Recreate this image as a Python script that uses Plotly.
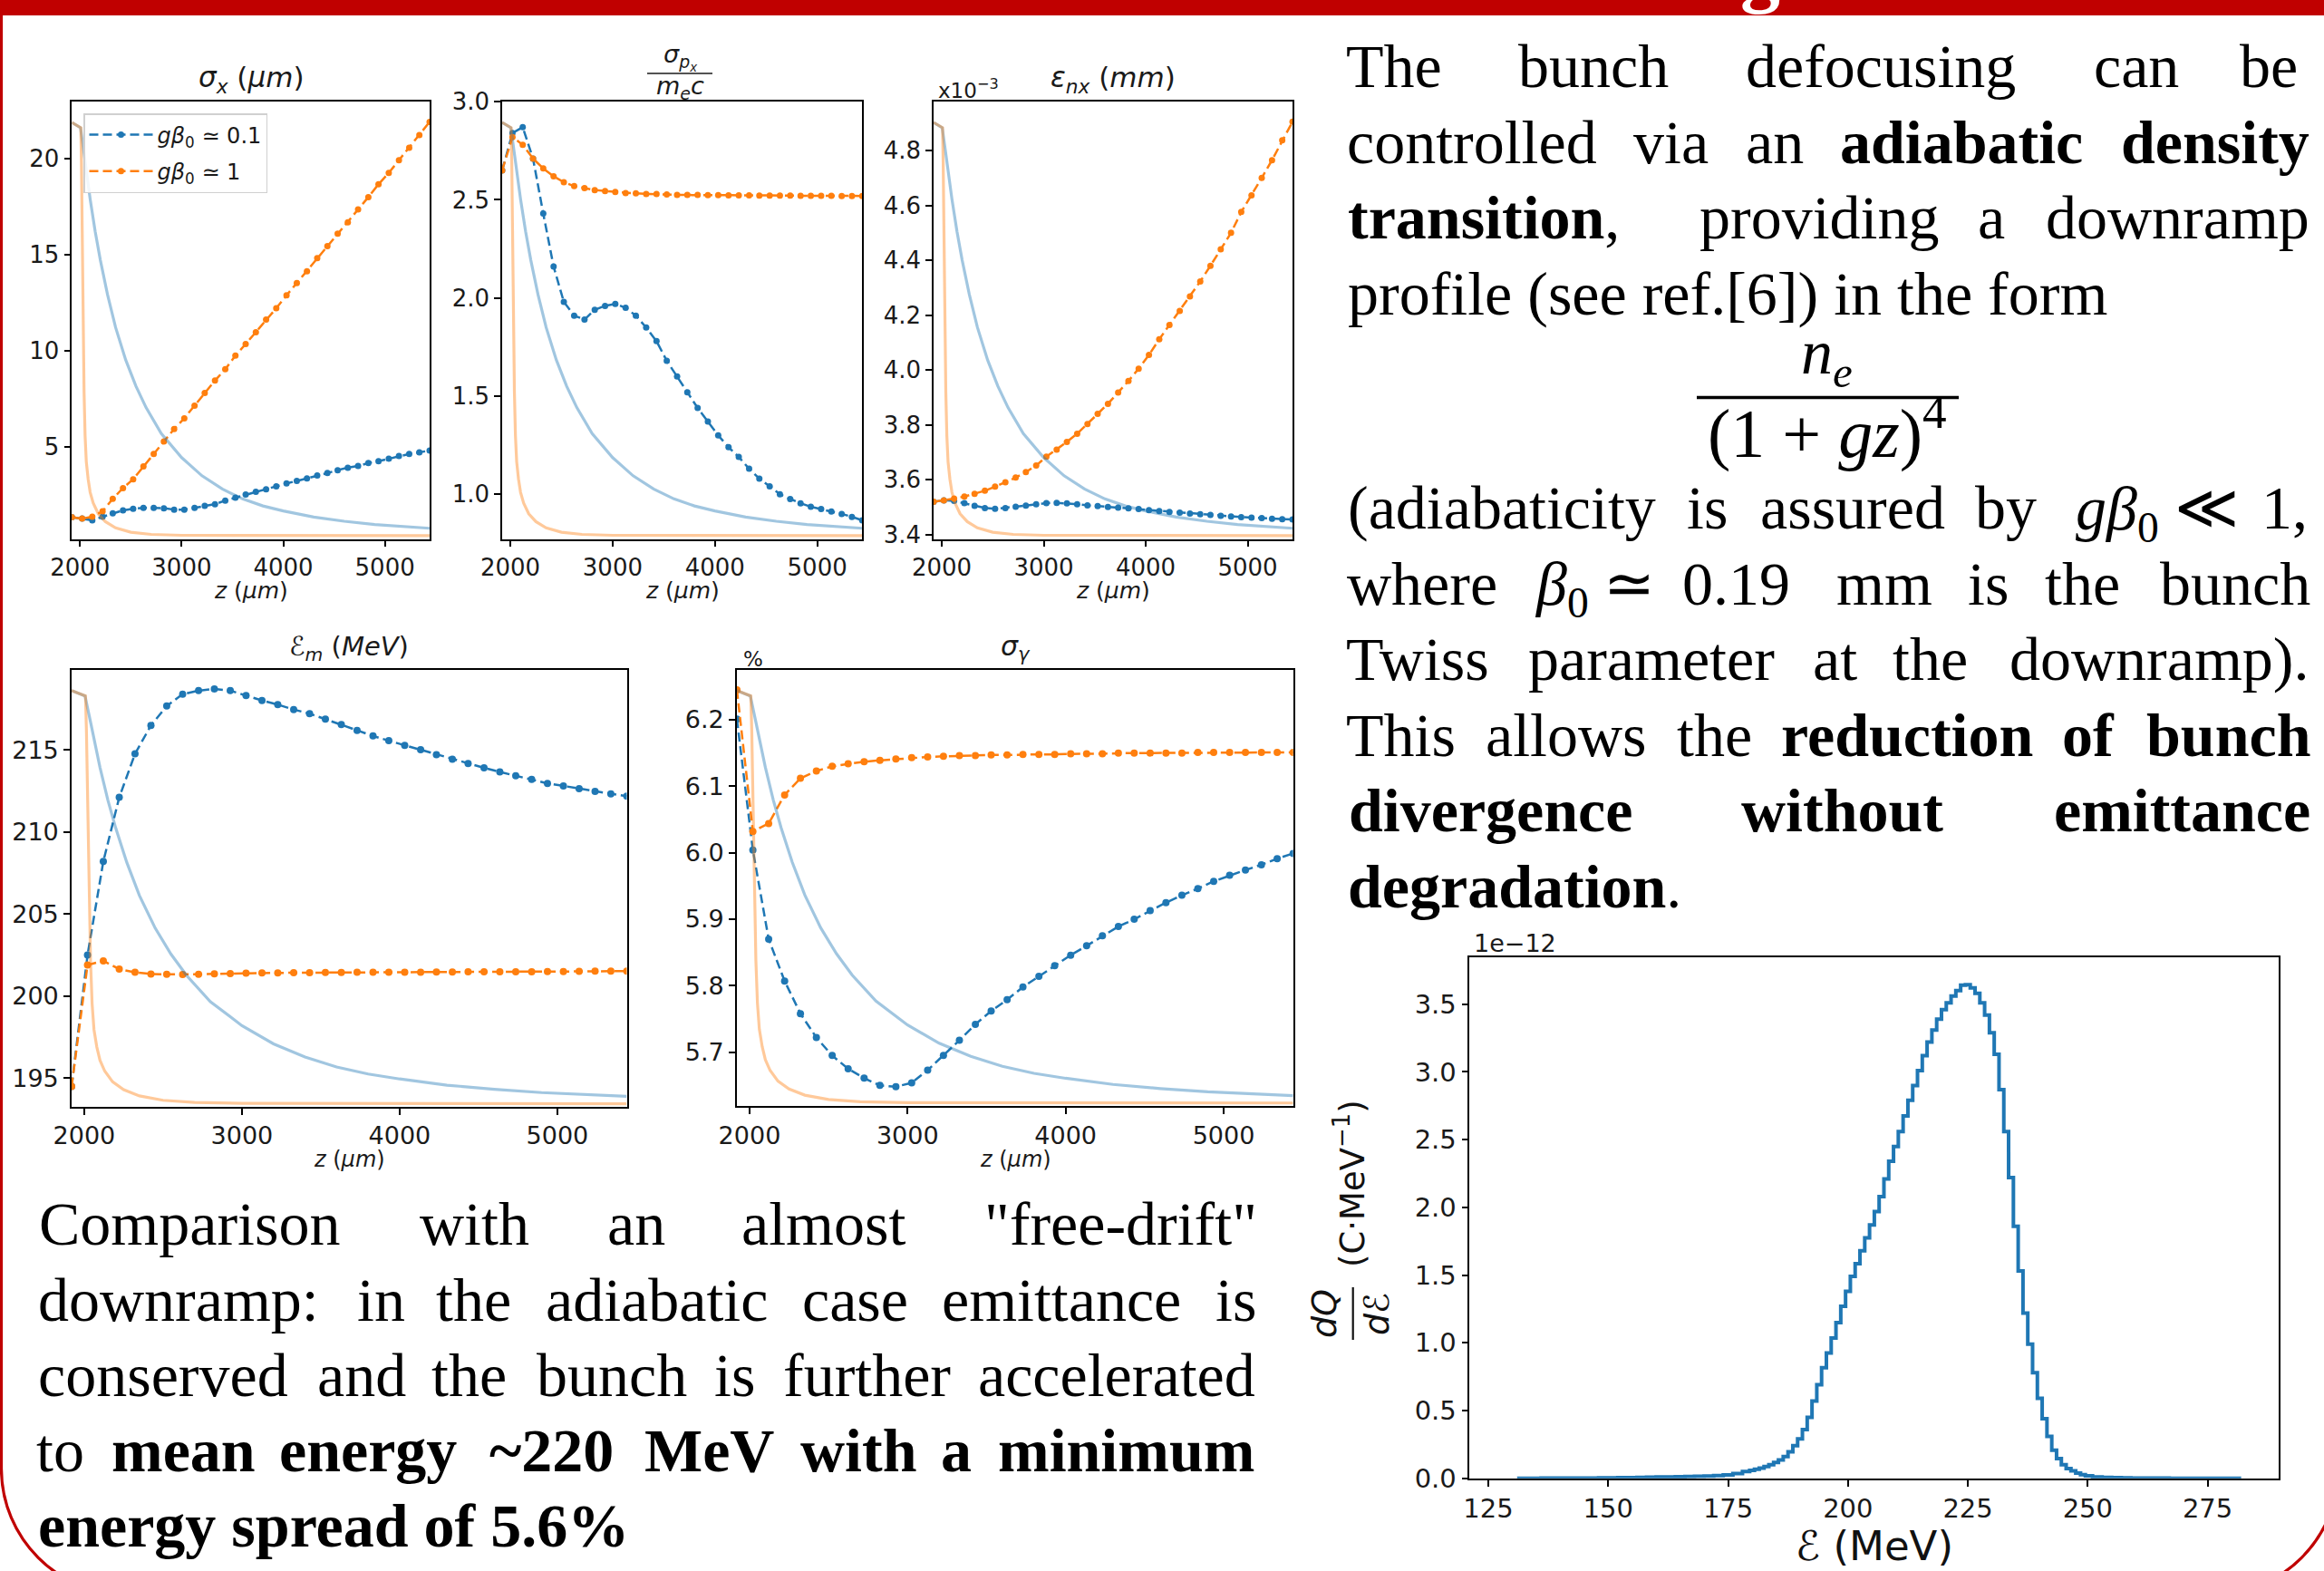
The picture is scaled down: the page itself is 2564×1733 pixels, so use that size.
import plotly.graph_objects as go

W, H = 2564, 1733
BLUE = "#1f77b4"
ORANGE = "#ff7f0e"
RED = "#c00000"

# ---------------- data ----------------
Z = [1920, 2021, 2121, 2222, 2322, 2423, 2523, 2624, 2725, 2825, 2926, 3026,
     3127, 3227, 3328, 3429, 3529, 3630, 3730, 3831, 3931, 4032, 4133, 4233,
     4334, 4434, 4535, 4635, 4736, 4837, 4937, 5038, 5138, 5239, 5339, 5440]

SIGX_A = [1.35, 1.27, 1.18, 1.37, 1.55, 1.70, 1.78, 1.83, 1.83, 1.81, 1.74, 1.74,
          1.83, 1.93, 2.02, 2.21, 2.36, 2.52, 2.67, 2.80, 2.95, 3.10, 3.23, 3.36,
          3.51, 3.64, 3.79, 3.92, 4.01, 4.16, 4.26, 4.39, 4.53, 4.63, 4.72, 4.81]
SIGX_B = [1.35, 1.27, 1.37, 1.65, 2.30, 2.86, 3.32, 3.98, 4.63, 5.28, 5.93, 6.49,
          7.14, 7.80, 8.45, 9.04, 9.75, 10.35, 10.96, 11.62, 12.21, 12.88, 13.52, 14.13,
          14.82, 15.44, 16.09, 16.68, 17.35, 17.99, 18.66, 19.25, 19.91, 20.56, 21.21, 21.90]

SIGP_A = [2.65, 2.84, 2.87, 2.71, 2.43, 2.16, 1.98, 1.91, 1.89, 1.94, 1.96, 1.97,
          1.95, 1.91, 1.85, 1.78, 1.68, 1.60, 1.52, 1.44, 1.37, 1.30, 1.24, 1.19,
          1.13, 1.08, 1.04, 1.00, 0.976, 0.954, 0.936, 0.925, 0.912, 0.900, 0.885, 0.867]
SIGP_B = [2.65, 2.82, 2.78, 2.71, 2.66, 2.62, 2.59, 2.57, 2.56, 2.55, 2.545, 2.54,
          2.535, 2.533, 2.53, 2.53, 2.527, 2.525, 2.525, 2.525, 2.524, 2.524, 2.523, 2.523,
          2.523, 2.522, 2.522, 2.522, 2.522, 2.521, 2.521, 2.521, 2.521, 2.520, 2.520, 2.520]

EMIT_A = [3.520, 3.525, 3.523, 3.515, 3.505, 3.497, 3.494, 3.497, 3.502, 3.506, 3.511, 3.515,
          3.516, 3.514, 3.511, 3.507, 3.504, 3.501, 3.498, 3.496, 3.493, 3.489, 3.486, 3.483,
          3.480, 3.477, 3.474, 3.472, 3.469, 3.466, 3.464, 3.462, 3.460, 3.458, 3.456, 3.455]
EMIT_B = [3.520, 3.525, 3.531, 3.539, 3.549, 3.560, 3.575, 3.591, 3.608, 3.628, 3.652, 3.684,
          3.710, 3.738, 3.768, 3.803, 3.840, 3.877, 3.918, 3.960, 4.005, 4.055, 4.112, 4.164,
          4.215, 4.268, 4.323, 4.380, 4.440, 4.500, 4.576, 4.637, 4.700, 4.765, 4.837, 4.905]

EN_A = [194.5, 202.5, 208.2, 212.1, 214.75, 216.48, 217.66, 218.38, 218.6, 218.7, 218.6, 218.3,
        218.0, 217.75, 217.45, 217.2, 216.86, 216.54, 216.18, 215.84, 215.55, 215.27, 215.0, 214.7,
        214.43, 214.16, 213.9, 213.65, 213.42, 213.2, 212.95, 212.8, 212.63, 212.47, 212.32, 212.17]
EN_B = [194.5, 201.9, 202.15, 201.65, 201.45, 201.35, 201.33, 201.32, 201.33, 201.36, 201.38, 201.40,
        201.41, 201.42, 201.43, 201.43, 201.44, 201.44, 201.45, 201.45, 201.45, 201.46, 201.46, 201.47,
        201.47, 201.48, 201.48, 201.48, 201.49, 201.49, 201.50, 201.50, 201.51, 201.52, 201.52, 201.53]

SPR_A = [6.201, 6.004, 5.870, 5.807, 5.758, 5.722, 5.695, 5.675, 5.661, 5.650, 5.648, 5.654,
         5.673, 5.695, 5.718, 5.742, 5.762, 5.779, 5.798, 5.814, 5.830, 5.846, 5.860, 5.875,
         5.889, 5.900, 5.913, 5.925, 5.936, 5.946, 5.957, 5.966, 5.974, 5.982, 5.991, 5.999]
SPR_B = [6.245, 6.032, 6.044, 6.087, 6.112, 6.123, 6.130, 6.134, 6.137, 6.139, 6.141, 6.143,
         6.144, 6.145, 6.146, 6.146, 6.147, 6.147, 6.148, 6.148, 6.148, 6.149, 6.149, 6.149,
         6.150, 6.150, 6.150, 6.150, 6.150, 6.151, 6.151, 6.151, 6.151, 6.151, 6.151, 6.151]

# normalised density profiles (n/n0) of the two downramps
PROF_Z_A = [1920, 2005, 2040, 2070, 2100, 2150, 2200, 2270, 2350, 2450, 2550, 2650,
            2800, 3000, 3200, 3400, 3600, 3800, 4000, 4300, 4600, 4900, 5200, 5440]
PROF_A = [1.0, 0.987, 0.924, 0.867, 0.814, 0.735, 0.667, 0.584, 0.504, 0.425, 0.362, 0.310,
          0.247, 0.189, 0.145, 0.113, 0.089, 0.072, 0.060, 0.045, 0.035, 0.027, 0.022, 0.018]
PROF_Z_B = [1920, 2008, 2014, 2020, 2026, 2032, 2040, 2050, 2062, 2080, 2100, 2130,
            2180, 2250, 2350, 2500, 2700, 3000, 5440]
PROF_B = [1.0, 0.987, 0.903, 0.756, 0.599, 0.462, 0.347, 0.242, 0.179, 0.137, 0.105, 0.079,
          0.053, 0.034, 0.019, 0.0084, 0.0032, 0.001, 0.0]

# energy spectrum dQ/dE (units of 1e-12 C/MeV), bin centres in MeV
HIST_E = [131, 133, 135, 137, 139, 141, 143, 145, 147, 149, 151, 153, 155, 157, 159, 161,
          163, 165, 167, 169, 171, 173, 175, 177, 179,
          180, 181, 182, 183, 184, 185, 186, 187, 188, 189, 190, 191, 192, 193, 194, 195,
          196, 197, 198, 199, 200, 201, 202, 203, 204, 205, 206, 207, 208, 209, 210, 211,
          212, 213, 214, 215, 216, 217, 218, 219, 220, 221, 222, 223, 224, 225, 226, 227,
          228, 229, 230, 231, 232, 233, 234, 235, 236, 237, 238, 239, 240, 241, 242, 243,
          244, 245, 246, 247, 248, 249, 250,
          252, 254, 256, 258, 260, 262, 264, 266, 268, 270, 272, 274, 276, 278, 280, 282]
HIST_Q = [0.000, 0.000, 0.000, 0.001, 0.001, 0.001, 0.001, 0.002, 0.002, 0.003, 0.003, 0.004,
          0.005, 0.006, 0.008, 0.009, 0.010, 0.012, 0.013, 0.015, 0.017, 0.020, 0.025, 0.034,
          0.050,
          0.058, 0.066, 0.075, 0.086, 0.100, 0.116, 0.136, 0.160, 0.195, 0.240, 0.290, 0.360,
          0.450, 0.570, 0.690, 0.816, 0.925, 1.035, 1.150, 1.270, 1.380, 1.490, 1.585, 1.680,
          1.775, 1.870, 1.970, 2.080, 2.210, 2.340, 2.450, 2.560, 2.675, 2.790, 2.900, 3.010,
          3.120, 3.220, 3.310, 3.390, 3.460, 3.510, 3.560, 3.600, 3.640, 3.645, 3.620, 3.580,
          3.510, 3.420, 3.290, 3.130, 2.870, 2.560, 2.220, 1.860, 1.530, 1.220, 0.990, 0.780,
          0.590, 0.440, 0.310, 0.207, 0.145, 0.100, 0.072, 0.055, 0.038, 0.026, 0.018,
          0.010, 0.006, 0.004, 0.003, 0.002, 0.001, 0.001, 0.001, 0.000, 0.000, 0.000, 0.000,
          0.000, 0.000, 0.000, 0.000]

LEGEND_NAMES = ["<i>gβ</i><sub>0</sub> ≃ 0.1", "<i>gβ</i><sub>0</sub> ≃ 1"]

# ---------------- helpers ----------------
def fx(x):
    return x / W


def fy(y):
    return 1 - y / H


PANELS = [
    dict(box=(79.3, 474, 112.2, 594.6), yr=[0.21, 22.95], yt=[5, 10, 15, 20], fmt="d",
         a=SIGX_A, b=SIGX_B, fs=26, ms=7),
    dict(box=(554, 951.3, 112.2, 594.6), yr=[0.772, 3.0], yt=[1.0, 1.5, 2.0, 2.5, 3.0], fmt=".1f",
         a=SIGP_A, b=SIGP_B, fs=26, ms=7),
    dict(box=(1030, 1426, 112.2, 594.6), yr=[3.384, 4.978], yt=[3.4, 3.6, 3.8, 4.0, 4.2, 4.4, 4.6, 4.8],
         fmt=".1f", a=EMIT_A, b=EMIT_B, fs=26, ms=7),
    dict(box=(79, 691.5, 739, 1221.2), yr=[193.25, 219.86], yt=[195, 200, 205, 210, 215], fmt="d",
         a=EN_A, b=EN_B, fs=27, ms=8),
    dict(box=(813, 1426.7, 739, 1220.4), yr=[5.6186, 6.275], yt=[5.7, 5.8, 5.9, 6.0, 6.1, 6.2],
         fmt=".1f", a=SPR_A, b=SPR_B, fs=27, ms=8),
]

fig = go.Figure()
layout = {}


def axstyle(fs):
    return dict(showline=True, linecolor="black", linewidth=1.6, mirror=True,
                ticks="outside", ticklen=7, tickwidth=1.5, tickcolor="black",
                showgrid=False, zeroline=False, automargin=False,
                tickfont=dict(family="DejaVu Sans", size=fs, color="#1a1a1a"))


for i, p in enumerate(PANELS):
    n = i + 1
    xs = "" if n == 1 else str(n)
    tw = str(n + 6)
    l, r, t, b = p["box"]
    layout["xaxis" + xs] = dict(domain=[fx(l), fx(r)], range=[Z[0], Z[-1]], anchor="y" + xs,
                                tickvals=[2000, 3000, 4000, 5000], **axstyle(p["fs"]))
    layout["yaxis" + xs] = dict(domain=[fy(b), fy(t)], range=p["yr"], anchor="x" + xs,
                                tickvals=p["yt"], tickformat=p["fmt"], **axstyle(p["fs"]))
    layout["yaxis" + tw] = dict(overlaying="y" + xs, anchor="x" + xs, range=[-0.008, 1.05],
                                visible=False)
    # density profiles on the twin axis
    fig.add_trace(go.Scatter(x=PROF_Z_A, y=PROF_A, mode="lines", xaxis="x" + xs, yaxis="y" + tw,
                             line=dict(color="rgba(31,119,180,0.42)", width=3.2),
                             showlegend=False, hoverinfo="skip"))
    fig.add_trace(go.Scatter(x=PROF_Z_B, y=PROF_B, mode="lines", xaxis="x" + xs, yaxis="y" + tw,
                             line=dict(color="rgba(255,127,14,0.42)", width=3.2),
                             showlegend=False, hoverinfo="skip"))
    # bunch quantities
    fig.add_trace(go.Scatter(x=Z, y=p["a"], mode="lines+markers", xaxis="x" + xs, yaxis="y" + xs,
                             line=dict(color=BLUE, width=2.5, dash="10px,5px"),
                             marker=dict(color=BLUE, size=p["ms"]), name=LEGEND_NAMES[0],
                             legendgroup="a", showlegend=(n == 1)))
    fig.add_trace(go.Scatter(x=Z, y=p["b"], mode="lines+markers", xaxis="x" + xs, yaxis="y" + xs,
                             line=dict(color=ORANGE, width=2.5, dash="10px,5px"),
                             marker=dict(color=ORANGE, size=p["ms"]), name=LEGEND_NAMES[1],
                             legendgroup="b", showlegend=(n == 1)))

# histogram panel
HBOX = (1621.4, 2514.4, 1055.5, 1630.7)
layout["xaxis6"] = dict(domain=[fx(HBOX[0]), fx(HBOX[1])], range=[121.1, 289.9], anchor="y6",
                        tickvals=[125, 150, 175, 200, 225, 250, 275], **axstyle(29))
layout["yaxis6"] = dict(domain=[fy(HBOX[3]), fy(HBOX[2])], range=[0, 3.85], anchor="x6",
                        tickvals=[0, 0.5, 1.0, 1.5, 2.0, 2.5, 3.0, 3.5], tickformat=".1f",
                        **axstyle(29))
fig.add_trace(go.Scatter(x=HIST_E, y=HIST_Q, mode="lines", xaxis="x6", yaxis="y6",
                         line=dict(color=BLUE, width=4, shape="hvh"), showlegend=False,
                         hoverinfo="skip"))

# ---------------- annotations ----------------
ann = []


def label(text, cx, cy, fs, xanchor="center", family="DejaVu Sans", color="#1a1a1a", angle=0):
    ann.append(dict(x=fx(cx), y=fy(cy), xref="paper", yref="paper", text=text, showarrow=False,
                    xanchor=xanchor, yanchor="middle", textangle=angle,
                    font=dict(family=family, size=fs, color=color)))


# panel titles / axis labels
label("<i>σ<sub>x</sub></i> (<i>μm</i>)", 276.7, 88, 31)
label("<i>σ<sub>p<sub>x</sub></sub></i>", 750, 63, 27)
label("<i>m<sub>e</sub>c</i>", 750, 96, 27)
label("x10<sup>−3</sup>", 1033, 98, 23, xanchor="left")
label("<i>ε<sub>nx</sub></i> (<i>mm</i>)", 1228, 88, 31)
label("ℰ<sub><i>m</i></sub> (<i>MeV</i>)", 385, 715, 29)
label("<i>σ<sub>γ</sub></i>", 1120, 714, 30)
label("%", 818, 727, 23, xanchor="left")
for cx in (276.7, 752.7, 1228):
    label("<i>z</i> (<i>μm</i>)", cx, 652, 25)
for cx in (385, 1120):
    label("<i>z</i> (<i>μm</i>)", cx, 1279, 24)

# histogram labels
label("1e−12", 1624, 1040, 27, xanchor="left")
label("ℰ (MeV)", 2068, 1705, 45, color="#111")
label("(C·MeV<sup>−1</sup>)", 1489, 1306, 37, angle=-90, color="#111")
label("<i>dQ</i>", 1461, 1449, 38, angle=-90, color="#111")
label("<i>d</i>ℰ", 1519, 1449, 38, angle=-90, color="#111")

# poster text (justified lines placed word by word)
FS = 68
RIGHT_TEXT = [
    (96, [("The", 1485.7, 1589.3), ("bunch", 1673.9, 1841.7), ("defocusing", 1923.4, 2226.2),
          ("can", 2308.7, 2405), ("be", 2456, 2549.4)]),
    (179.5, [("controlled", 1485.7, 1762.9), ("via", 1803, 1883.3), ("an", 1927, 1989),
             ("<b>adiabatic</b>", 2029, 2299), ("<b>density</b>", 2339, 2549.4)]),
    (263, [("<b>transition</b>,", 1485.7, 1788.5), ("providing", 1872, 2142), ("a", 2182, 2211.6),
           ("downramp", 2255, 2549.4)]),
    (346.5, [("profile (see ref.[6]) in the form", 1485.7, None)]),
    (583, [("(adiabaticity", 1485.7, 1828.6), ("is", 1861, 1905), ("assured", 1941.7, 2146),
           ("by", 2178.8, 2248), ("<i>gβ</i><sub>0</sub>", 2281, 2390), ("≪", 2397.7, 2470.6),
           ("1,", 2492.5, 2549.4)]),
    (666.5, [("where", 1485.7, 1652), ("<i>β</i><sub>0</sub>", 1690, 1755.6), ("≃", 1766.6, 1828.6),
             ("0.19", 1854, 1978), ("mm", 2025.6, 2131.4), ("is", 2171.5, 2215.3),
             ("the", 2255, 2340.8), ("bunch", 2381.6, 2549.4)]),
    (750, [("Twiss", 1485.7, 1642.5), ("parameter", 1682.7, 1961.4), ("at", 2000, 2049),
           ("the", 2087.6, 2171.5), ("downramp).", 2213.8, 2549.4)]),
    (833.5, [("This", 1485.7, 1606), ("allows", 1639, 1817.6), ("the", 1849, 1934.4),
             ("<b>reduction</b>", 1963.6, 2244.5), ("<b>of</b>", 2277, 2330.6),
             ("<b>bunch</b>", 2368.5, 2549.4)]),
    (917, [("<b>divergence</b>", 1485.7, 1803), ("<b>without</b>", 1919.8, 2146),
           ("<b>emittance</b>", 2265, 2549.4)]),
    (1000.5, [("<b>degradation</b>.", 1485.7, None)]),
]
LEFT_TEXT = [
    (1373, [("Comparison", 41.3, 376.5), ("with", 463.8, 583), ("an", 668.6, 734.7),
            ("almost", 817.3, 999.2), ("\"free-drift\"", 1088.3, 1384.9)]),
    (1457, [("downramp:", 41.3, 353.6), ("in", 395, 445.4), ("the", 482, 562),
            ("adiabatic", 601.5, 846.7), ("case", 886.2, 1001), ("emittance", 1037.7, 1304),
            ("is", 1342.6, 1384.9)]),
    (1540, [("conserved", 41.3, 319.6), ("and", 350.8, 447.2), ("the", 477.5, 558.4),
            ("bunch", 592.3, 757.6), ("is", 789.8, 831), ("further", 863.2, 1048.8),
            ("accelerated", 1079, 1384.9)]),
    (1623, [("to", 41.3, 91.8), ("<b>mean</b>", 124, 280), ("<b>energy</b>", 307.6, 505),
            ("<b>~220</b>", 532.6, 684.2), ("<b>MeV</b>", 711.7, 854), ("<b>with</b>", 883.4, 1010.2),
            ("<b>a</b>", 1039.6, 1070), ("<b>minimum</b>", 1099.3, 1384.9)]),
    (1706, [("<b>energy spread of 5.6%</b>", 41.3, None)]),
]
for base, words in RIGHT_TEXT + LEFT_TEXT:
    cy = base - 0.3375 * FS
    for w, x0, x1 in words:
        if x1 is None:
            label(w, x0 - 1, cy, FS, xanchor="left", family="Liberation Serif", color="black")
        else:
            adj = 5 if "<sub>" in w else 0
            label(w, (x0 + x1) / 2, cy + adj, FS, family="Liberation Serif", color="black")

# formula n_e / (1+gz)^4
label("<i>n<sub>e</sub></i>", 2015, 394, 70, family="Liberation Serif", color="black")
label("(1 + <i>gz</i>)<sup>4</sup>", 2016, 473, 76, family="Liberation Serif", color="black")

# white fragment of the poster header
label("<b>g</b>", 1942, -33, 88, family="Liberation Serif", color="white")

# ---------------- shapes ----------------
k = 0.5523
R = 139
xl, xr, yb, ytop = 1.5, 2580, 1759, 17
cy0 = yb - R
path = (f"M {fx(xl)},{fy(ytop)} L {fx(xl)},{fy(cy0)} "
        f"C {fx(xl)},{fy(cy0 + k * R)} {fx(xl + R - k * R)},{fy(yb)} {fx(xl + R)},{fy(yb)} "
        f"L {fx(xr - R)},{fy(yb)} "
        f"C {fx(xr - R + k * R)},{fy(yb)} {fx(xr)},{fy(cy0 + k * R)} {fx(xr)},{fy(cy0)} "
        f"L {fx(xr)},{fy(ytop)}")
shapes = [
    dict(type="rect", xref="paper", yref="paper", x0=0, x1=1, y0=fy(17), y1=1.0,
         fillcolor=RED, line=dict(width=0), layer="above"),
    dict(type="path", xref="paper", yref="paper", path=path, line=dict(color=RED, width=3.2)),
    # fraction bars
    dict(type="line", xref="paper", yref="paper", x0=fx(714), x1=fx(786), y0=fy(81), y1=fy(81),
         line=dict(color="#1a1a1a", width=1.6)),
    dict(type="line", xref="paper", yref="paper", x0=fx(1872), x1=fx(2161), y0=fy(438.6),
         y1=fy(438.6), line=dict(color="black", width=3.5)),
    dict(type="line", xref="paper", yref="paper", x0=fx(1492.7), x1=fx(1492.7), y0=fy(1420),
         y1=fy(1478), line=dict(color="#111", width=2.2)),
]

fig.update_layout(
    width=W, height=H, margin=dict(l=0, r=0, t=0, b=0, pad=0, autoexpand=False),
    paper_bgcolor="white", plot_bgcolor="white",
    annotations=ann, shapes=shapes,
    legend=dict(x=fx(92), y=fy(125), xanchor="left", yanchor="top",
                bgcolor="rgba(255,255,255,0.85)", bordercolor="#d0d0d0", borderwidth=1.5,
                font=dict(family="DejaVu Sans", size=24, color="#1a1a1a"),
                itemwidth=70, tracegroupgap=6),
    **layout,
)

fig.write_html("out.html", config={"displayModeBar": False},
               post_script="document.body.style.margin='0px';document.body.style.overflow='hidden';")
